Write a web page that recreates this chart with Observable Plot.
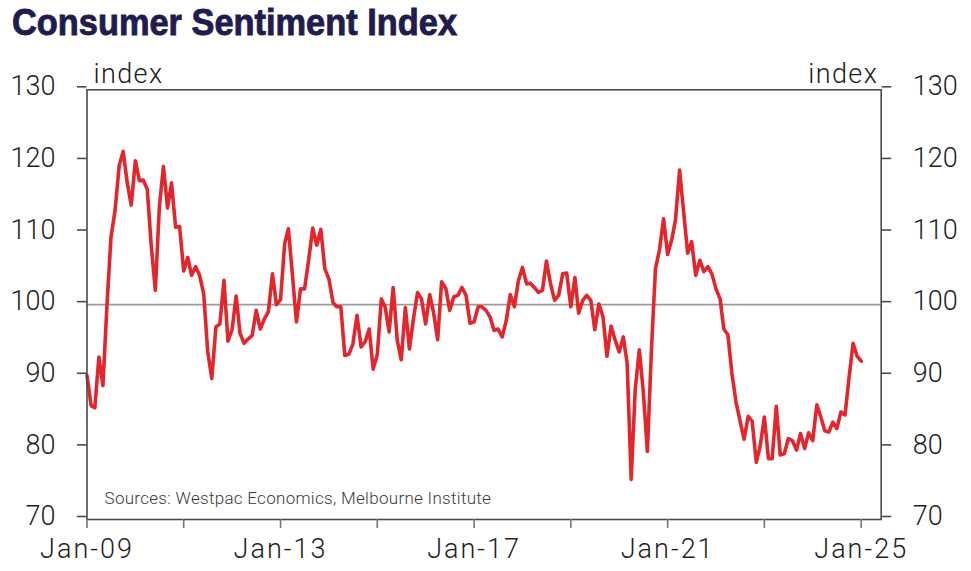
<!DOCTYPE html>
<html><head><meta charset="utf-8">
<script src="https://cdn.jsdelivr.net/npm/d3@7"></script>
<script src="https://cdn.jsdelivr.net/npm/@observablehq/plot@0.6"></script>
<style>
html,body{margin:0;padding:0;background:#fff}
body{width:971px;height:571px;overflow:hidden;position:relative;font-family:Roboto,sans-serif}
#title{position:absolute;left:12px;top:4px;font-family:"Liberation Sans Narrow",sans-serif;font-weight:bold;font-size:37px;line-height:37px;color:#211c4e;white-space:nowrap;transform-origin:0 0;-webkit-text-stroke:0.9px #211c4e}
#chart{position:absolute;left:0;top:50px}
#chart g[aria-label="x-axis tick label"] text{letter-spacing:2px}
#chart g.unit text{letter-spacing:1.4px}
#chart g.source text{letter-spacing:0.3px}
</style></head><body>
<div id="title"></div>
<div id="chart"></div>
<script>
const titleText = "Consumer Sentiment Index";
const unitLabel = "index";
const sourceText = "Sources: Westpac Economics, Melbourne Institute";
const firstYear = 2009;
const v2009 = [90.1, 85.9, 85.6, 92.7, 88.7, 100.0, 109.4, 113.2, 119.4, 121.4, 117.0, 113.9];
const v2010 = [120.1, 117.3, 117.4, 116.1, 108.2, 102.0, 113.6, 119.3, 113.5, 117.0, 110.8, 110.9];
const v2011 = [104.7, 106.6, 104.1, 105.3, 104.1, 101.5, 93.5, 89.7, 96.9, 97.3, 103.4, 94.9];
const v2012 = [96.5, 101.2, 96.0, 94.6, 95.2, 95.7, 99.2, 96.6, 98.0, 99.0, 104.3, 100.0];
const v2013 = [100.7, 108.5, 110.6, 104.1, 97.6, 102.2, 102.2, 106.2, 110.7, 108.3, 110.5, 105.0];
const v2014 = [103.6, 100.3, 99.7, 99.7, 92.9, 93.1, 94.5, 98.5, 94.1, 94.8, 96.6, 91.0];
const v2015 = [93.0, 100.8, 99.7, 96.2, 102.4, 95.0, 92.3, 99.6, 93.8, 98.0, 101.7, 100.8];
const v2016 = [97.3, 101.4, 98.9, 95.1, 103.2, 102.3, 99.2, 101.1, 101.3, 102.4, 101.3, 97.4];
const v2017 = [97.6, 99.7, 99.7, 99.2, 98.3, 96.4, 96.6, 95.5, 97.8, 101.4, 99.7, 103.3];
const v2018 = [105.2, 102.9, 103.0, 102.4, 101.7, 102.0, 106.1, 102.9, 100.6, 101.3, 104.3, 104.4];
const v2019 = [99.7, 103.8, 98.8, 100.6, 101.3, 100.6, 96.5, 100.1, 98.3, 92.8, 97.0, 95.1];
const v2020 = [93.4, 95.5, 91.9, 75.6, 88.1, 93.7, 87.9, 79.5, 93.8, 105.0, 107.7, 112.0];
const v2021 = [107.0, 109.1, 111.8, 118.8, 113.1, 107.2, 108.8, 104.1, 106.2, 104.6, 105.3, 104.3];
const v2022 = [102.2, 100.8, 96.6, 95.8, 90.4, 86.4, 83.8, 81.2, 84.4, 83.7, 78.0, 80.3];
const v2023 = [84.3, 78.5, 78.5, 85.8, 79.0, 79.2, 81.3, 81.0, 79.7, 82.0, 79.9, 82.1];
const v2024 = [81.0, 86.0, 84.4, 82.4, 82.2, 83.6, 82.7, 85.0, 84.6, 89.8, 94.6, 92.8];
const v2025 = [92.1];
const yTicks = [70, 80, 90, 100, 110, 120, 130];
const xTickYears = [2009, 2011, 2013, 2015, 2017, 2019, 2021, 2023, 2025];
const xLabelYears = [2009, 2013, 2017, 2021, 2025];
const referenceLevel = [100];

const allValues = [].concat(v2009, v2010, v2011, v2012, v2013, v2014, v2015, v2016,
  v2017, v2018, v2019, v2020, v2021, v2022, v2023, v2024, v2025);
const data = allValues.map((v, i) => ({date: new Date(Date.UTC(firstYear, i, 1)), value: v}));
const xTicks = xTickYears.map(y => new Date(Date.UTC(y, 0, 1)));
const fmt = d => xLabelYears.includes(d.getUTCFullYear()) ? "Jan-" + String(d.getUTCFullYear()).slice(2) : "";

const t = document.getElementById("title");
t.textContent = titleText;

const axisCommon = {ticks: yTicks, tickSize: 9.5, tickPadding: 22, fontSize: 27, label: null, dy: -3, stroke: "#4a4a4a", strokeWidth: 1.6};

const chart = Plot.plot({
  width: 971, height: 521,
  marginLeft: 86.5, marginRight: 90.3, marginTop: 39.3, marginBottom: 52,
  style: {fontFamily: "Roboto, sans-serif", fontWeight: 300, color: "#1e1e1e", background: "#fff", overflow: "visible"},
  x: {type: "utc", domain: [new Date(Date.UTC(2009, 0, 1)), new Date(Date.UTC(2025, 5, 1))]},
  y: {domain: [70, 130]},
  marks: [
    Plot.ruleY(referenceLevel, {stroke: "#9a9a9a", strokeWidth: 1.6}),
    Plot.lineY(data, {x: "date", y: "value", stroke: "#e2262c", strokeWidth: 3.6, strokeLinejoin: "round"}),
    Plot.frame({stroke: "#4a4a4a", strokeWidth: 1.6}),
    Plot.axisY({...axisCommon, anchor: "left"}),
    Plot.axisY({...axisCommon, anchor: "right"}),
    Plot.axisX({ticks: xTicks, tickFormat: fmt, tickSize: 9, tickPadding: 10, fontSize: 27, label: null, stroke: "#777", strokeWidth: 1.6}),
    Plot.text([unitLabel], {text: d => d, frameAnchor: "top-left", dx: 6.5, dy: -15, textAnchor: "start", lineAnchor: "middle", fontSize: 27, className: "unit"}),
    Plot.text([unitLabel], {text: d => d, frameAnchor: "top-right", dx: -3, dy: -15, textAnchor: "end", lineAnchor: "middle", fontSize: 27, className: "unit"}),
    Plot.text([sourceText], {text: d => d, frameAnchor: "bottom-left", dx: 17.5, dy: -21, textAnchor: "start", lineAnchor: "middle", fontSize: 17, fill: "#3a3a3a", className: "source"})
  ]
});
document.getElementById("chart").appendChild(chart);

const w = t.getBoundingClientRect().width;
t.style.transform = `scaleX(${445 / w})`;
</script>
</body></html>
